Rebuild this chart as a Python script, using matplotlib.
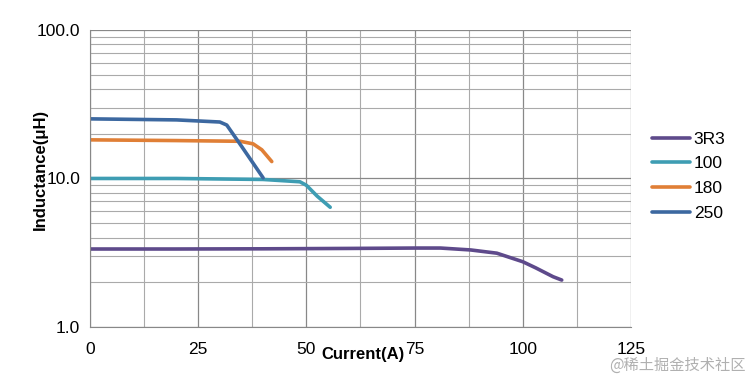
import numpy as np
import matplotlib
matplotlib.use('Agg')
import matplotlib.pyplot as plt

plt.rcParams['font.family'] = ['Liberation Sans', 'DejaVu Sans']

# current (A) / inductance (uH) for each part
x_3r3 = [0, 20, 40, 60, 75, 81, 88, 94, 100, 103, 107, 109]
y_3r3 = [3.35, 3.35, 3.36, 3.38, 3.40, 3.40, 3.30, 3.14, 2.75, 2.50, 2.18, 2.07]

x_100 = [0, 20, 40, 48.5, 50, 52.5, 55.5]
y_100 = [10.0, 10.0, 9.85, 9.5, 9.0, 7.6, 6.4]

x_180 = [0, 20, 34.7, 37.7, 39.7, 42]
y_180 = [18.2, 18.0, 17.8, 17.1, 15.6, 13.0]

x_250 = [0, 20, 30, 31.6, 35, 40]
y_250 = [25.2, 24.8, 24.0, 22.9, 16.5, 10.1]

series = [('3R3', x_3r3, y_3r3, '#5e4a8b'),
          ('100', x_100, y_100, '#3e9db3'),
          ('180', x_180, y_180, '#e07f36'),
          ('250', x_250, y_250, '#3c68a0')]

fig = plt.figure(figsize=(7.5, 3.78), dpi=100)
ax = fig.add_axes([0.12, 0.135, 0.7213, 0.7857])

for name, xs, ys, c in series:
    ax.plot(xs, ys, color=c, lw=2.6, label=name, solid_capstyle='round')

ax.set_yscale('log')
ax.set_ylim(1, 100)
ax.set_xlim(0, 125)
ax.set_xticks([0, 25, 50, 75, 100, 125])
ax.set_xticks(np.arange(12.5, 125, 25), minor=True)
ax.set_yticks([1, 10, 100])
ax.set_yticklabels(['1.0', '10.0', '100.0'])
ax.yaxis.set_minor_formatter(matplotlib.ticker.NullFormatter())

ax.grid(which='major', color='#888888', lw=0.9)
ax.grid(which='minor', color='#aaaaaa', lw=0.8)
ax.set_axisbelow(True)
ax.tick_params(which='both', length=0)
ax.tick_params(axis='x', pad=11, labelsize=12.5)
ax.tick_params(axis='y', pad=7, labelsize=12.5)
for s in ['top', 'right']:
    ax.spines[s].set_visible(False)
for s in ['left', 'bottom']:
    ax.spines[s].set_color('#888888')

ax.set_xlabel('Current(A)', fontweight='bold', fontsize=12)
ax.xaxis.set_label_coords(0.505, -0.068)
ax.set_ylabel('Inductance(μH)', fontweight='bold', fontsize=12)
ax.yaxis.set_label_coords(-0.077, 0.53)

ax.legend(loc='center left', bbox_to_anchor=(1.01, 0.508), frameon=False,
          fontsize=12.5, handlelength=2.2, handletextpad=0.2, labelspacing=0.55)

fig.text(0.994, 0.012, '@稀土掘金技术社区', ha='right', va='bottom', fontsize=11,
         color='#b0b0b0', family=['Noto Sans CJK SC', 'DejaVu Sans'])

fig.savefig('out.png', dpi=100)
